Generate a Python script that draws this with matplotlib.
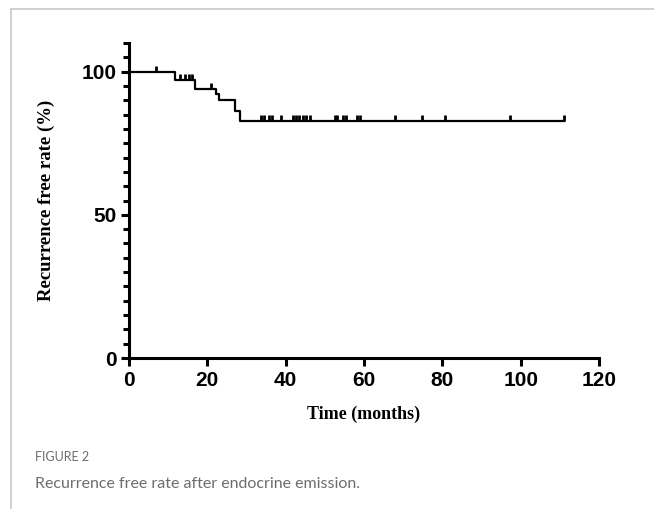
import numpy as np
import matplotlib.pyplot as plt

# Kaplan-Meier steps
event_times = [0, 11.8, 16.8, 22.2, 22.9, 27.0, 28.3]
survival = [100, 97.1, 93.9, 92.1, 90.2, 86.4, 82.9]
end_time = 111

# censored observations (months)
censor_times = [7, 13, 14.3, 15.2, 16, 20.9, 33.7, 34.4, 35.8, 36.4, 38.8,
                41.9, 42.6, 43.4, 44.3, 45.3, 46.2, 52.6, 53.2, 54.7, 55.3,
                58.1, 58.9, 67.9, 74.9, 80.8, 97.4, 111]

x_ticks = [0, 20, 40, 60, 80, 100, 120]
y_ticks = [0, 50, 100]

fig = plt.figure(figsize=(6.54, 5.09), dpi=100)

# page frame lines (journal layout)
fig.add_artist(plt.Line2D([11 / 654, 11 / 654], [0, 1 - 9 / 509],
                          color='#c8c8c8', lw=1.2, transform=fig.transFigure))
fig.add_artist(plt.Line2D([11 / 654, 1], [1 - 9 / 509, 1 - 9 / 509],
                          color='#c8c8c8', lw=1.2, transform=fig.transFigure))

ax = fig.add_axes([129 / 654, 1 - 358 / 509, 470 / 654, 315 / 509])

xs = list(event_times) + [end_time]
ys = list(survival) + [survival[-1]]
ax.step(xs, ys, where='post', color='black', lw=1.6, clip_on=False)

idx = np.searchsorted(event_times, censor_times, side='right') - 1
levels = np.array(survival)[idx]
ax.vlines(censor_times, levels, levels + 2.0, color='black', lw=2.0,
          clip_on=False)

ax.set_xlim(0, 120)
ax.set_ylim(0, 110)
ax.set_xticks(x_ticks)
ax.set_yticks(y_ticks)
ax.set_yticks(np.arange(0, 111, 5), minor=True)

for s in ['top', 'right']:
    ax.spines[s].set_visible(False)
for s in ['left', 'bottom']:
    ax.spines[s].set_linewidth(2.2)

ax.tick_params(axis='both', which='major', length=6, width=2.2,
               labelsize=15, pad=3)
ax.tick_params(axis='y', which='minor', length=4, width=2.2)
for lab in ax.get_xticklabels() + ax.get_yticklabels():
    lab.set_fontfamily('Liberation Sans')
    lab.set_fontweight('bold')

ax.set_xlabel('Time (months)', fontfamily='Liberation Serif',
              fontweight='bold', fontsize=13, labelpad=12)
ax.set_ylabel('Recurrence free rate (%)', fontfamily='Liberation Serif',
              fontweight='bold', fontsize=13.5, labelpad=19)

fig.text(35 / 654, 1 - 457 / 509, 'FIGURE 2', fontfamily='Lato',
         fontsize=9, color='#6d6d6d', va='center')
fig.text(35 / 654, 1 - 484 / 509, 'Recurrence free rate after endocrine emission.',
         fontfamily='Lato', fontsize=11.5, color='#6d6d6d', va='center')

fig.savefig('out.png', dpi=100)
